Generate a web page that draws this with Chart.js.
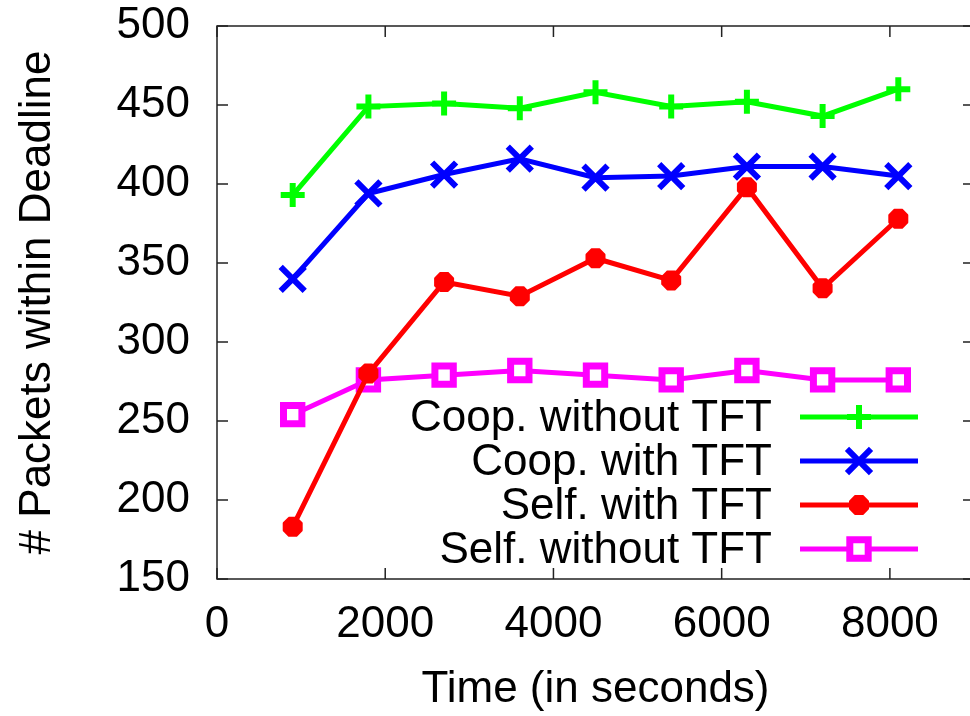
<!DOCTYPE html>
<html>
<head>
<meta charset="utf-8">
<script src="https://cdn.jsdelivr.net/npm/chart.js@4.4.1/dist/chart.umd.min.js"></script>
<style>
    html, body { margin: 0; padding: 0; background: #fff; overflow: hidden; }
    .wrap { width: 980px; height: 716px; }
</style>
</head>
<body>
<div class="wrap"><canvas id="deadlineChart" width="980" height="716"></canvas></div>
<script>
// data
const times = [900, 1800, 2700, 3600, 4500, 5400, 6300, 7200, 8100];
const coopNoTft = [393, 449, 451, 448, 458, 449, 452, 443, 460];
const coopTft = [340, 394, 406, 416, 404, 405, 411, 411, 405];
const selfTft = [183, 280, 338, 329, 353, 339, 398, 334, 378];
const selfNoTft = [254, 276, 279, 282, 279, 276, 282, 276, 276];

const xTicks = [0, 2000, 4000, 6000, 8000];
const yTicks = [150, 200, 250, 300, 350, 400, 450, 500];

const FONT = "'Liberation Sans', Arial, sans-serif";

function toPoints(values) {
    return values.map((v, i) => ({ x: times[i], y: v }));
}

function makeSet(label, values, color, style, radius, bw, fill) {
    return {
        label,
        data: toPoints(values),
        borderColor: color,
        backgroundColor: fill || color,
        borderWidth: 5,
        pointStyle: style,
        pointRadius: radius,
        pointHoverRadius: radius,
        pointBorderWidth: bw,
        pointBorderColor: color,
        pointBackgroundColor: fill || color,
        tension: 0
    };
}

// kill the label overhang padding so the plot box sits where we want it
function noPad(s) {
    s.paddingLeft = 0; s.paddingRight = 0;
    s.paddingTop = 0; s.paddingBottom = 0;
}

// frame with inward ticks, gnuplot style
const framePlugin = {
    id: "frame",
    afterDatasetsDraw(chart) {
        const { ctx, chartArea: a, scales } = chart;
        ctx.save();
        ctx.strokeStyle = "#222";
        ctx.lineWidth = 1.5;
        ctx.strokeRect(a.left, a.top, a.right - a.left, a.bottom - a.top);
        ctx.beginPath();
        scales.y.ticks.forEach(t => {
            const y = scales.y.getPixelForValue(t.value);
            ctx.moveTo(a.left, y); ctx.lineTo(a.left + 11, y);
            ctx.moveTo(a.right, y); ctx.lineTo(a.right - 11, y);
        });
        scales.x.ticks.forEach(t => {
            const x = scales.x.getPixelForValue(t.value);
            ctx.moveTo(x, a.bottom); ctx.lineTo(x, a.bottom - 11);
            ctx.moveTo(x, a.top); ctx.lineTo(x, a.top + 11);
        });
        ctx.stroke();
        ctx.restore();
    }
};

// legend inside the plot: text right aligned, sample on the right
const keyPlugin = {
    id: "key",
    afterDatasetsDraw(chart) {
        const ctx = chart.ctx;
        const textRight = 772, lineL = 800, lineR = 918, top = 417, step = 44;
        ctx.save();
        ctx.font = "44px " + FONT;
        ctx.textAlign = "right";
        ctx.textBaseline = "middle";
        chart.data.datasets.forEach((ds, i) => {
            const y = top + i * step;
            ctx.fillStyle = "#000";
            ctx.fillText(ds.label, textRight, y + 2);
            ctx.strokeStyle = ds.borderColor;
            ctx.lineWidth = ds.borderWidth;
            ctx.beginPath();
            ctx.moveTo(lineL, y); ctx.lineTo(lineR, y);
            ctx.stroke();
            ctx.fillStyle = ds.pointBackgroundColor;
            ctx.lineWidth = ds.pointBorderWidth;
            Chart.helpers.drawPoint(ctx, {
                pointStyle: ds.pointStyle,
                radius: ds.pointRadius,
                rotation: 0,
                borderWidth: ds.pointBorderWidth
            }, (lineL + lineR) / 2, y);
        });
        ctx.restore();
    }
};

new Chart(document.getElementById("deadlineChart"), {
    type: "line",
    data: {
        datasets: [
            makeSet("Coop. without TFT", coopNoTft, "#00ff00", "cross", 12, 6),
            makeSet("Coop. with TFT", coopTft, "#0000ff", "crossRot", 17, 6),
            makeSet("Self. with TFT", selfTft, "#ff0000", "star", 10, 8),
            makeSet("Self. without TFT", selfNoTft, "#ff00ff", "rect", 13, 7, "#ffffff")
        ]
    },
    options: {
        responsive: false,
        animation: false,
        layout: { autoPadding: false, padding: { left: 0, top: 26, right: 6, bottom: 0 } },
        plugins: {
            legend: { display: false },
            tooltip: { enabled: false }
        },
        scales: {
            x: {
                type: "linear",
                min: 0,
                max: 9000,
                afterBuildTicks: s => { s.ticks = xTicks.map(v => ({ value: v })); },
                afterFit: s => { s.height = 137; noPad(s); },
                grid: { display: false, drawTicks: false },
                border: { display: false },
                ticks: {
                    padding: 19,
                    color: "#000",
                    font: { family: FONT, size: 44 },
                    maxRotation: 0,
                    callback: v => String(v)
                },
                title: {
                    display: true,
                    text: "Time (in seconds)",
                    color: "#000",
                    font: { family: FONT, size: 44 },
                    padding: 0
                }
            },
            y: {
                min: 150,
                max: 500,
                afterBuildTicks: s => { s.ticks = yTicks.map(v => ({ value: v })); },
                afterFit: s => { s.width = 217; noPad(s); },
                grid: { display: false, drawTicks: false },
                border: { display: false },
                ticks: {
                    padding: 27,
                    color: "#000",
                    font: { family: FONT, size: 44 },
                    callback: v => String(v)
                },
                title: {
                    display: true,
                    text: "# Packets within Deadline",
                    color: "#000",
                    font: { family: FONT, size: 44 },
                    padding: { top: 11, bottom: 0 }
                }
            }
        }
    },
    plugins: [framePlugin, keyPlugin]
});
</script>
</body>
</html>
